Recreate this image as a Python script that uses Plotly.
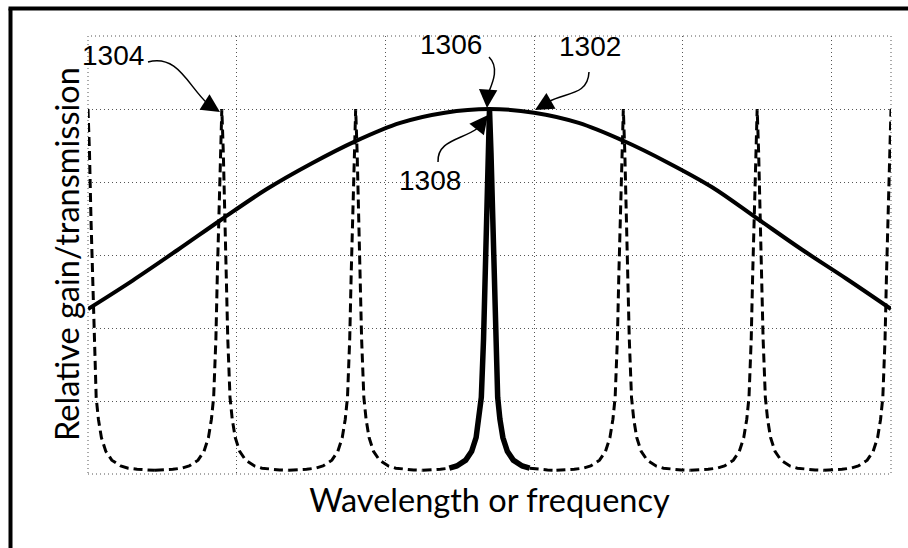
import plotly.graph_objects as go

# ---------------- data ----------------
# gain curve 1302 (x in grid units, y relative)
gain_x = [0.0, 0.3, 0.6, 0.9, 1.2, 1.5, 1.8, 2.1, 2.4, 2.7, 3.0, 3.3, 3.6, 3.9, 4.2, 4.5, 4.8, 5.1, 5.4]
gain_y = [0.452, 0.53, 0.613, 0.698, 0.78, 0.85, 0.912, 0.962, 0.99, 1.0, 0.99, 0.962, 0.913, 0.853, 0.785, 0.70, 0.615, 0.535, 0.452]

# transmission comb 1304: peak centres and one-sided peak profile (offset from centre, value)
peak_centres = [0.0, 0.9, 1.8, 2.7, 3.6, 4.5, 5.4]
selected_peak = 2.7          # peak 1306/1308 drawn solid
selected_halfwidth = 0.27    # extent of the solid part
profile_offset = [0.0, 0.01, 0.02, 0.03, 0.04, 0.055, 0.07, 0.09, 0.12, 0.16, 0.22, 0.27, 0.33, 0.39, 0.45]
profile_value = [1.0, 0.88, 0.70, 0.55, 0.37, 0.21, 0.15, 0.10, 0.062, 0.038, 0.022, 0.016, 0.013, 0.011, 0.010]

x_title = "Wavelength or frequency"
y_title = "Relative gain/transmission"
labels = ["1304", "1306", "1302", "1308"]

X_MIN, X_MAX = 0.0, 5.4
Y_MIN, Y_MAX = 0.0, 1.2

# ---------------- build traces ----------------
full_off = [-o for o in profile_offset[::-1]] + profile_offset[1:]
full_val = profile_value[::-1] + profile_value[1:]

dx, dy = [], []
sx, sy = [], []
for c in peak_centres:
    seg_x, seg_y = [], []
    for o, v in zip(full_off, full_val):
        xv = c + o
        if xv < X_MIN - 1e-9 or xv > X_MAX + 1e-9:
            continue
        if c == selected_peak and abs(o) < selected_halfwidth - 1e-9:
            if seg_x:
                dx += seg_x + [None]; dy += seg_y + [None]
                seg_x, seg_y = [], []
            continue
        seg_x.append(xv); seg_y.append(v)
    dx += seg_x + [None]; dy += seg_y + [None]
    if c == selected_peak:
        for o, v in zip(full_off, full_val):
            if abs(o) <= selected_halfwidth + 1e-9:
                sx.append(c + o); sy.append(v)

fig = go.Figure()
fig.add_trace(go.Scatter(x=dx, y=dy, mode="lines", connectgaps=False,
                         line=dict(color="black", width=3, dash="9px,5px"),
                         hoverinfo="skip", showlegend=False))
fig.add_trace(go.Scatter(x=sx, y=sy, mode="lines",
                         line=dict(color="black", width=5.5),
                         hoverinfo="skip", showlegend=False))
fig.add_trace(go.Scatter(x=gain_x, y=gain_y, mode="lines",
                         line=dict(color="black", width=4, shape="spline", smoothing=1.0),
                         hoverinfo="skip", showlegend=False))

# ---------------- layout helpers (pixel -> paper) ----------------
W, H = 908, 548
L, R, T, B = 88, 17, 36, 74
PW, PH = W - L - R, H - T - B

def pxx(px):
    return (px - L) / PW

def pxy(py):
    return (H - B - py) / PH

def path(pts):
    cmd = "M {:.5f},{:.5f} C ".format(pxx(pts[0][0]), pxy(pts[0][1]))
    cmd += " ".join("{:.5f},{:.5f}".format(pxx(a), pxy(b)) for a, b in pts[1:])
    return cmd

shapes = []
# dotted plot frame
shapes.append(dict(type="rect", xref="paper", yref="paper", x0=0, y0=0, x1=1, y1=1,
                   line=dict(color="#555", width=1, dash="1px,3px"), layer="below"))
# outer black frame (left and top visible)
shapes.append(dict(type="line", xref="paper", yref="paper", x0=pxx(10.5), x1=pxx(10.5),
                   y0=pxy(8.5), y1=pxy(560), line=dict(color="black", width=4)))
shapes.append(dict(type="line", xref="paper", yref="paper", x0=pxx(8.5), x1=pxx(920),
                   y0=pxy(8.5), y1=pxy(8.5), line=dict(color="black", width=4)))

leader_paths = [
    [(148, 62), (178, 54), (188, 86), (208, 104)],   # 1304
    [(489, 57), (500, 68), (492, 84), (488, 94)],    # 1306
    [(589, 72), (588, 96), (565, 92), (548, 102)],   # 1302
    [(438, 162), (437, 140), (462, 140), (478, 128)],  # 1308
]
for p in leader_paths:
    shapes.append(dict(type="path", xref="paper", yref="paper", path=path(p),
                       line=dict(color="black", width=1.5)))

annotations = []
label_pos = [(113, 55), (451, 45), (590, 46), (430, 181)]
for t, (a, b) in zip(labels, label_pos):
    annotations.append(dict(text=t, xref="paper", yref="paper", x=pxx(a), y=pxy(b),
                            showarrow=False, xanchor="center", yanchor="middle",
                            font=dict(family="Liberation Sans", size=28, color="black")))

# arrowheads: (tip px, tail offset px)
heads = [((220, 112), (-14, -9)), ((487, 108), (1, -16)),
         ((535, 110), (14, -8)), ((488, 115), (-11, 14))]
for (tx, ty), (ax, ay) in heads:
    annotations.append(dict(text="", xref="paper", yref="paper", x=pxx(tx), y=pxy(ty),
                            ax=ax, ay=ay, showarrow=True, arrowhead=2, arrowsize=2.3,
                            arrowwidth=1.6, arrowcolor="black", standoff=0))

# y-axis title as rotated annotation
annotations.append(dict(text=y_title, xref="paper", yref="paper", x=pxx(66), y=pxy(254),
                        showarrow=False, textangle=-90, xanchor="center", yanchor="middle",
                        font=dict(family="Lato", size=32.5, color="black")))

fig.update_layout(
    width=W, height=H,
    margin=dict(l=L, r=R, t=T, b=B, pad=0),
    paper_bgcolor="white", plot_bgcolor="white",
    shapes=shapes, annotations=annotations,
    xaxis=dict(range=[X_MIN, X_MAX], dtick=1, tick0=0, showticklabels=False, ticks="",
               showgrid=True, gridcolor="#555", gridwidth=1, griddash="1px,3px",
               zeroline=False, showline=False, automargin=False,
               title=dict(text=x_title, standoff=15,
                          font=dict(family="Lato", size=32.5, color="black"))),
    yaxis=dict(range=[Y_MIN, Y_MAX], dtick=0.2, tick0=0, showticklabels=False, ticks="",
               showgrid=True, gridcolor="#555", gridwidth=1, griddash="1px,3px",
               zeroline=False, showline=False, automargin=False),
)

fig.write_html("out.html", config={"displayModeBar": False},
               post_script="document.body.style.margin='0';document.body.style.overflow='hidden';")
